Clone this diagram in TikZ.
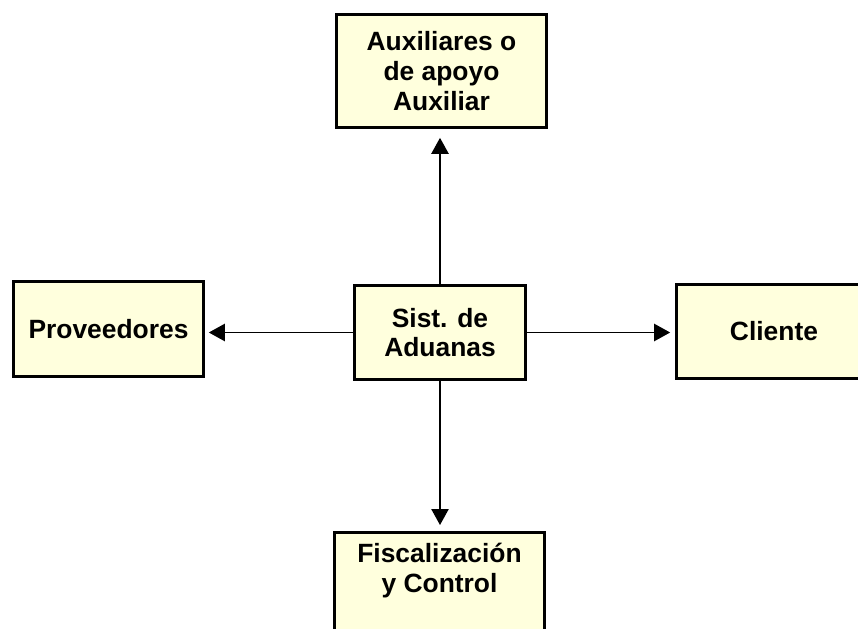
\documentclass[tikz,border=0pt]{standalone}
\usepackage{fontspec}
\setmainfont{Liberation Sans}
\usetikzlibrary{positioning}
\usetikzlibrary{arrows.meta}
\usepackage{xcolor}
\definecolor{boxfill}{RGB}{255,255,221}

\begin{document}
\begin{tikzpicture}[x=0.75pt, y=-0.75pt,
    box/.style={draw, fill=boxfill, line width=2pt, align=center, inner sep=4pt,
        font=\fontsize{19.8}{22.4}\selectfont\bfseries},
    link/.style={-{Triangle[length=12pt, width=13pt]}, line width=1pt}]
            \useasboundingbox (0, 0) rectangle (858, 629);
            \clip (0, 0) rectangle (858, 629);

            \node[box, minimum width=157.5pt, minimum height=84.75pt] (aux) at (441.5, 71) {Auxiliares o\\de apoyo\\Auxiliar};
            \node[box, minimum width=128.25pt, minimum height=70.5pt] (sist) at (440, 332.5) {Sist. de\\Aduanas};
            \node[box, minimum width=142.5pt, minimum height=71.25pt] (prov) at (108.5, 329) {Proveedores};
            \node[box, minimum width=146.25pt, minimum height=70.5pt] (cli) at (774, 331.5) {Cliente};
            \node[box, minimum width=157.5pt, anchor=north, inner ysep=8pt, text depth=70pt] (fisc) at (439.5, 531) {Fiscalización\\y Control};

            \draw[link, shorten >=6.75pt] (sist.north) -- (sist.north |- aux.south);
            \draw[link, shorten >=3pt] (sist.west) -- (sist.west -| prov.east);
            \draw[link, shorten >=3.75pt] (sist.east) -- (sist.east -| cli.west);
            \draw[link, shorten >=4.5pt] (sist.south) -- (sist.south |- fisc.north);
        \end{tikzpicture}
\end{document}
